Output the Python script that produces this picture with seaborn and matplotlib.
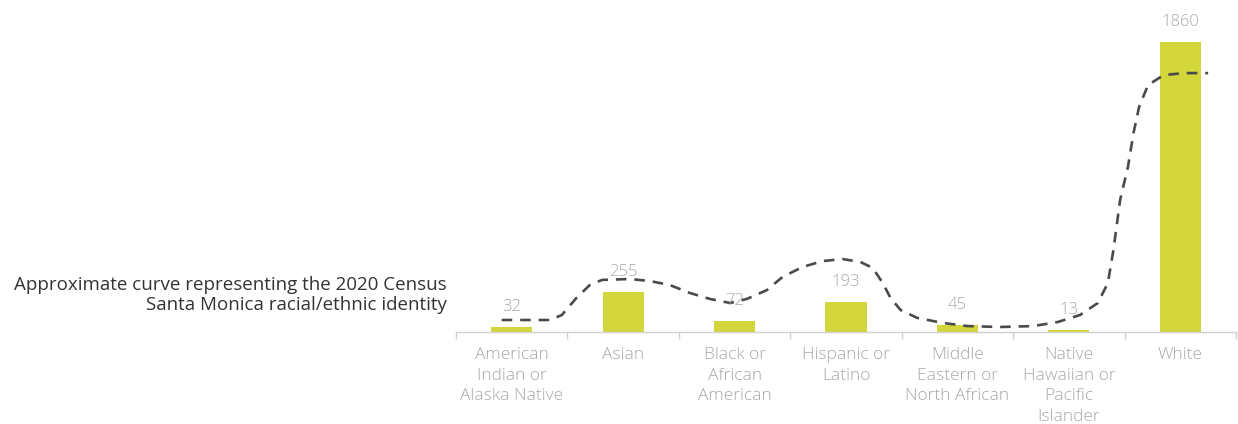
import matplotlib
matplotlib.use("Agg")
import matplotlib.pyplot as plt
import seaborn as sns

# Survey respondents by racial/ethnic identity
categories = [
    "American\nIndian or\nAlaska Native",
    "Asian",
    "Black or\nAfrican\nAmerican",
    "Hispanic or\nLatino",
    "Middle\nEastern or\nNorth African",
    "Native\nHawaiian or\nPacific\nIslander",
    "White",
]
counts = [32, 255, 72, 193, 45, 13, 1860]

# Approximate 2020 Census curve for Santa Monica (scaled to the bar axis)
curve_x = [-0.09, 0.34, 0.45, 0.58, 0.70, 0.81, 1.06, 1.24, 1.42, 1.60, 1.78,
           1.96, 2.11, 2.29, 2.43, 2.61, 2.79, 2.97, 3.13, 3.24, 3.33, 3.40,
           3.49, 3.64, 3.87, 4.09, 4.38, 4.68, 4.90, 5.10, 5.26, 5.35, 5.40,
           5.46, 5.53, 5.58, 5.63, 5.71, 5.85, 6.03, 6.25]
curve_y = [77, 77, 109, 218, 301, 334, 340, 327, 301, 250, 212,
           186, 212, 269, 353, 417, 455, 468, 449, 411, 314, 218,
           141, 90, 58, 38, 32, 38, 64, 109, 186, 314, 526,
           847, 1058, 1276, 1443, 1584, 1648, 1661, 1661]

W, H = 1238, 424
fig = plt.figure(figsize=(W / 100, H / 100), dpi=100)
ax = fig.add_axes([456 / W, (H - 332) / H, 780 / W, 332 / H])

sns.barplot(x=categories, y=counts, color="#D3D63A", width=0.37,
            saturation=1, ax=ax)

ax.plot(curve_x, curve_y, color="#4a4a4a", lw=1.9, linestyle=(0, (4, 3)),
        dash_capstyle="butt", solid_joinstyle="round", zorder=3)

for i, v in enumerate(counts):
    ax.annotate(str(v), (i, v), xytext=(0, 14.5), textcoords="offset points",
                ha="center", va="center", fontsize=12, color="#a8a8a8",
                family="Open Sans", fontweight="light")

ax.set_xlim(-0.5, 6.5)
ax.set_ylim(0, 2130)
ax.set_yticks([])
for s in ["top", "right", "left"]:
    ax.spines[s].set_visible(False)
ax.spines["bottom"].set_color("#d0d0d0")
ax.spines["bottom"].set_linewidth(1.0)

ax.tick_params(axis="x", which="major", length=0, pad=11,
               labelsize=12.5, labelcolor="#a8a8a8")
ax.set_xticks([i - 0.5 for i in range(8)], minor=True)
ax.tick_params(axis="x", which="minor", length=5, color="#d0d0d0", width=1)
for lbl in ax.get_xticklabels():
    lbl.set_family("Open Sans")
    lbl.set_fontweight("light")
    lbl.set_linespacing(1.38)
ax.set_xlabel("")
ax.set_ylabel("")

fig.text(447 / W, 1 - 295 / H,
         "Approximate curve representing the 2020 Census\n"
         "Santa Monica racial/ethnic identity",
         ha="right", va="center", fontsize=13.5, color="#333333",
         family="Open Sans", linespacing=1.1)

fig.savefig("out.png", dpi=100)
